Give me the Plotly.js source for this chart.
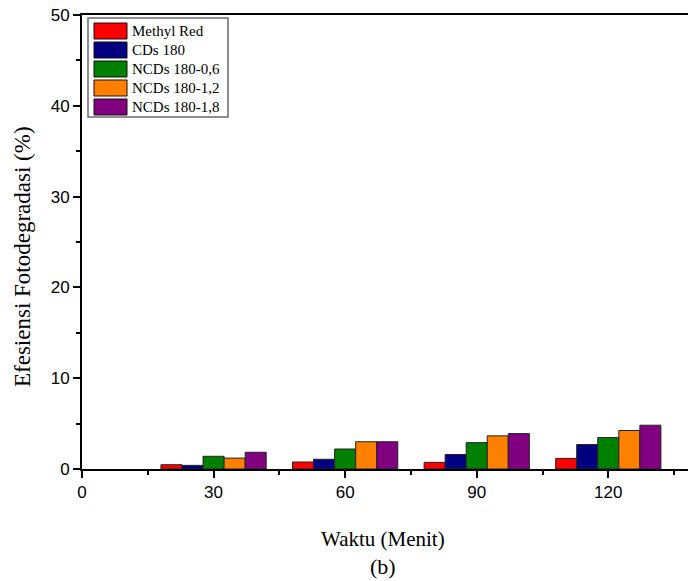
<!DOCTYPE html>
<html>
<head>
<meta charset="utf-8">
<script src="https://cdn.plot.ly/plotly-3.0.1.min.js"></script>
<style>
html,body{margin:0;padding:0;overflow:hidden;background:#fff;width:688px;height:581px;}
#chart{width:700px;height:581px;}
</style>
</head>
<body>
<div id="chart"></div>
<script>
// Data
const waktu = [30, 60, 90, 120];
const seriesNames = ["Methyl Red", "CDs 180", "NCDs 180-0,6", "NCDs 180-1,2", "NCDs 180-1,8"];
const methylRed = [0.47, 0.77, 0.73, 1.17];
const cds180 = [0.40, 1.07, 1.60, 2.69];
const ncds06 = [1.40, 2.20, 2.90, 3.46];
const ncds12 = [1.20, 3.00, 3.65, 4.24];
const ncds18 = [1.84, 3.00, 3.90, 4.82];
const xTicks = [0, 30, 60, 90, 120];
const yTicks = [0, 10, 20, 30, 40, 50];

const seriesValues = [methylRed, cds180, ncds06, ncds12, ncds18];
const colors = ["#FF0000", "#000080", "#008000", "#FF8000", "#800080"];

const SERIF = "Liberation Serif";
const SANS = "Liberation Sans";

// layout geometry (pixels)
const W = 700, H = 581;
const M = {l: 82, r: 4, t: 15, b: 112};
const PW = W - M.l - M.r, PH = H - M.t - M.b;
const px = p => (p - M.l) / PW;
const py = p => (H - M.b - p) / PH;

const traces = seriesValues.map((vals, i) => ({
  type: "bar",
  x: waktu,
  y: vals,
  name: seriesNames[i],
  marker: {color: colors[i], line: {color: "#222222", width: 1}},
  showlegend: false,
  hoverinfo: "x+y+name"
}));

const shapes = [];
const annotations = [];
// legend box
shapes.push({type: "rect", xref: "paper", yref: "paper",
  x0: px(88), x1: px(228), y0: py(117), y1: py(18),
  line: {color: "#6a6a6a", width: 1.5}, fillcolor: "rgba(255,255,255,1)"});
seriesNames.forEach((n, i) => {
  const top = 23 + i * 19;
  shapes.push({type: "rect", xref: "paper", yref: "paper",
    x0: px(94), x1: px(127), y0: py(top + 16), y1: py(top),
    line: {color: "#111111", width: 1}, fillcolor: colors[i]});
  annotations.push({xref: "paper", yref: "paper", x: px(130), y: py(top + 8),
    xanchor: "left", yanchor: "middle", showarrow: false, text: n,
    font: {family: SERIF, size: 15, color: "#000"}});
});
// axis titles
annotations.push({xref: "paper", yref: "paper", x: px(383), y: py(539),
  xanchor: "center", yanchor: "middle", showarrow: false, text: "Waktu (Menit)",
  font: {family: SERIF, size: 21, color: "#000"}});
annotations.push({xref: "paper", yref: "paper", x: px(383), y: py(566),
  xanchor: "center", yanchor: "middle", showarrow: false, text: "(b)",
  font: {family: SERIF, size: 22, color: "#000"}});
annotations.push({xref: "paper", yref: "paper", x: px(22), y: py(257),
  xanchor: "center", yanchor: "middle", showarrow: false, textangle: -90,
  text: "Efesiensi Fotodegradasi (%)",
  font: {family: SERIF, size: 23, color: "#000"}});

const layout = {
  width: W, height: H,
  margin: M,
  paper_bgcolor: "#fff", plot_bgcolor: "#fff",
  barmode: "group", bargap: 0.2, bargroupgap: 0,
  font: {family: SANS, size: 17, color: "#000"},
  xaxis: {
    range: [0, 140], tickvals: xTicks, ticktext: xTicks.map(String),
    showgrid: false, zeroline: false,
    showline: true, linecolor: "#000", linewidth: 2, mirror: true,
    ticks: "outside", ticklen: 7, tickwidth: 2, tickcolor: "#000",
    minor: {dtick: 15, tick0: 15, ticks: "outside", ticklen: 4, tickwidth: 2, tickcolor: "#000", showgrid: false},
    tickfont: {family: SANS, size: 17}
  },
  yaxis: {
    range: [0, 50], tickvals: yTicks, ticktext: yTicks.map(String),
    showgrid: false, zeroline: false,
    showline: true, linecolor: "#000", linewidth: 2, mirror: true,
    ticks: "outside", ticklen: 7, tickwidth: 2, tickcolor: "#000",
    minor: {dtick: 5, tick0: 5, ticks: "outside", ticklen: 4, tickwidth: 2, tickcolor: "#000", showgrid: false},
    tickfont: {family: SANS, size: 17}
  },
  shapes: shapes,
  annotations: annotations
};

Plotly.newPlot("chart", traces, layout, {displayModeBar: false, staticPlot: true});
</script>
</body>
</html>
